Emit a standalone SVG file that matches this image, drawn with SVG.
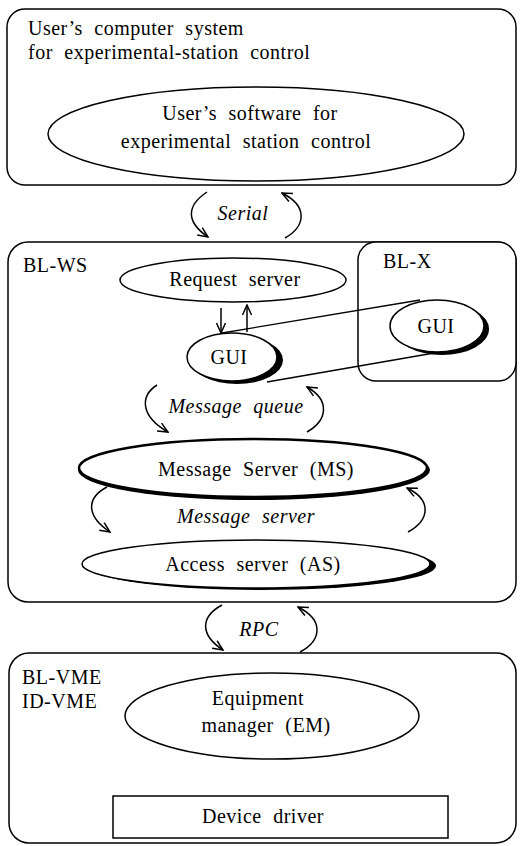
<svg xmlns="http://www.w3.org/2000/svg" width="521" height="846" viewBox="0 0 521 846">
<defs>
<marker id="ah" viewBox="-11 -6 12 12" refX="0" refY="0" markerWidth="12" markerHeight="12" markerUnits="userSpaceOnUse" orient="auto">
<path d="M-10,-4.5 L0,0 L-10,4.5" fill="none" stroke="#000" stroke-width="1.5"/>
</marker>
</defs>
<style>
.box{fill:#fff;stroke:#000;stroke-width:1.5}
.ell{fill:#fff;stroke:#000;stroke-width:1.5}
.sh{fill:#000}
.t{font-family:"Liberation Serif","Times New Roman",serif;font-size:20px;letter-spacing:0.5px;word-spacing:6px;fill:#000}
.i{font-style:italic}
.c{text-anchor:middle}
.arr{fill:none;stroke:#000;stroke-width:1.5;marker-end:url(#ah)}
.ln{fill:none;stroke:#000;stroke-width:1.3}
</style>

<g id="user-system">
<rect class="box" x="7" y="9" width="509" height="176" rx="18"/>
<text class="t" x="28" y="35">User’s computer system</text>
<text class="t" x="28" y="59">for experimental-station control</text>
</g>
<g id="user-software">
<ellipse class="ell" cx="256" cy="134" rx="208" ry="47"/>
<text class="t c" x="250" y="120">User’s software for</text>
<text class="t c" x="246" y="148">experimental station control</text>
</g>

<g id="bl-ws">
<rect class="box" x="8" y="242" width="508" height="360" rx="20"/>
<text class="t" x="23" y="272">BL-WS</text>
</g>
<g id="bl-x">
<rect class="box" x="358" y="242" width="158" height="139" rx="18"/>
<text class="t" x="383" y="268">BL-X</text>
</g>

<g id="connectors">
<path class="arr" d="M207,192 C186,206 186,222 208,237"/>
<path class="arr" d="M285,238 C306,226 308,206 282,193"/>
<path class="arr" d="M221,308 L221,333"/>
<path class="arr" d="M247,332 L247,305"/>
<path class="ln" d="M222,333 L420,300"/>
<path class="ln" d="M267,382 L440,352"/>
<path class="arr" d="M157,385 C140,396 140,416 168,432"/>
<path class="arr" d="M307,432 C328,420 330,400 307,387"/>
<path class="arr" d="M107,487 C86,498 86,516 110,532"/>
<path class="arr" d="M408,532 C430,520 432,500 407,488"/>
<path class="arr" d="M222,605 C200,617 200,635 223,650"/>
<path class="arr" d="M300,652 C322,640 324,620 298,607"/>
<path class="arr" d="M248,763 L248,795"/>
<path class="arr" d="M274,795 L274,766"/>
</g>

<g id="request-server">
<ellipse class="ell" cx="233" cy="280" rx="113" ry="22"/>
<text class="t c" x="235" y="286">Request server</text>
</g>
<g id="gui-ws">
<ellipse class="sh" cx="237" cy="360" rx="46" ry="24"/>
<ellipse class="ell" cx="232" cy="357" rx="45" ry="24"/>
<text class="t c" x="229" y="364">GUI</text>
</g>
<g id="gui-x">
<ellipse class="sh" cx="442" cy="329" rx="47" ry="26"/>
<ellipse class="ell" cx="437" cy="326" rx="47" ry="26"/>
<text class="t c" x="436" y="333">GUI</text>
</g>
<g id="message-server">
<ellipse class="sh" cx="254" cy="470" rx="176" ry="30"/>
<ellipse class="ell" cx="253" cy="468" rx="174" ry="29" style="stroke-width:2.5"/>
<text class="t c" x="256" y="476">Message Server (MS)</text>
</g>
<g id="access-server">
<ellipse class="sh" cx="262" cy="566" rx="174" ry="24"/>
<ellipse class="ell" cx="256" cy="564" rx="174" ry="24"/>
<text class="t c" x="253" y="571">Access server (AS)</text>
</g>

<g id="labels">
<text class="t i c" x="243" y="220">Serial</text>
<text class="t i c" x="236" y="413">Message queue</text>
<text class="t i c" x="246" y="523">Message server</text>
<text class="t i c" x="259" y="636">RPC</text>
</g>

<g id="bl-vme">
<rect class="box" x="9" y="653" width="507" height="190" rx="20"/>
<text class="t" x="22" y="684">BL-VME</text>
<text class="t" x="22" y="708">ID-VME</text>
</g>
<g id="equipment-manager">
<ellipse class="ell" cx="272" cy="716" rx="147" ry="43"/>
<text class="t c" x="258" y="705">Equipment</text>
<text class="t c" x="266" y="732">manager (EM)</text>
</g>
<g id="device-driver">
<rect class="box" x="113" y="796" width="335" height="42"/>
<text class="t c" x="263" y="823">Device driver</text>
</g>
</svg>
